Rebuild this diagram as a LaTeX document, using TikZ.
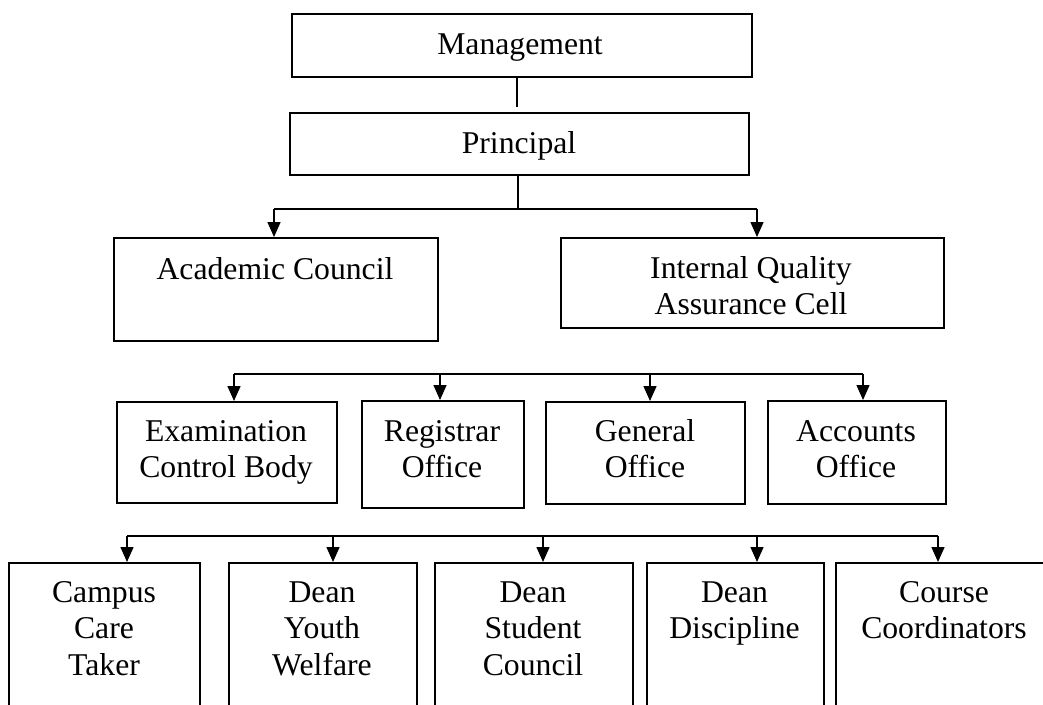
\documentclass[tikz,border=0pt]{standalone}
\usepackage{fontspec}
\setmainfont{Liberation Serif}
\usetikzlibrary{arrows.meta}
\begin{document}
\begin{tikzpicture}[x=1pt,y=-1pt,
  box/.style={draw, line width=1.6pt, inner sep=0pt, anchor=north west},
  lbl/.style={inner sep=0pt, anchor=north, align=center,
    font=\fontsize{31.7}{36.5}\selectfont},
  conn/.style={line width=1.5pt},
  arr/.style={line width=1.5pt, -{Triangle[length=15pt,width=13pt]}}]
\useasboundingbox (0,0) rectangle (1043,704);
\clip (0,0) rectangle (1043,704);
% boxes
\node[box, minimum width=460pt, minimum height=63pt] (mgmt) at (291,13) {};
\node[box, minimum width=459pt, minimum height=62pt] (prin) at (289,112) {};
\node[box, minimum width=324pt, minimum height=103pt] (ac) at (113,237) {};
\node[box, minimum width=383pt, minimum height=90pt] (iqac) at (560,237) {};
\node[box, minimum width=220pt, minimum height=101pt] (exam) at (116,401) {};
\node[box, minimum width=162pt, minimum height=107pt] (reg) at (361,400) {};
\node[box, minimum width=199pt, minimum height=102pt] (gen) at (545,401) {};
\node[box, minimum width=178pt, minimum height=103pt] (acc) at (767,400) {};
\node[box, minimum width=191pt, minimum height=170pt] (b1) at (8,562) {};
\node[box, minimum width=188pt, minimum height=170pt] (b2) at (228,562) {};
\node[box, minimum width=198pt, minimum height=170pt] (b3) at (434,562) {};
\node[box, minimum width=177pt, minimum height=170pt] (b4) at (646,562) {};
\node[box, minimum width=218pt, minimum height=170pt] (b5) at (835,562) {};
% labels
\node[lbl] (tmgmt) at (520,28.5) {\strut Management};
\node[lbl] (tprin) at (519,127.5) {\strut Principal};
\node[lbl] (tac) at (275,253.5) {\strut Academic Council};
\node[lbl] (tiqac) at (751,252.5) {\strut Internal Quality\\\strut Assurance Cell};
\node[lbl] (texam) at (226,415.5) {\strut Examination\\\strut Control Body};
\node[lbl] (treg) at (442,415.5) {\strut Registrar\\\strut Office};
\node[lbl] (tgen) at (645,415.5) {\strut General\\\strut Office};
\node[lbl] (tacc) at (856,415.5) {\strut Accounts\\\strut Office};
\node[lbl] (tb1) at (104,576.5) {\strut Campus\\\strut Care\\\strut Taker};
\node[lbl] (tb2) at (322,576.5) {\strut Dean\\\strut Youth\\\strut Welfare};
\node[lbl] (tb3) at (533,576.5) {\strut Dean\\\strut Student\\\strut Council};
\node[lbl] (tb4) at (734.5,576.5) {\strut Dean\\\strut Discipline};
\node[lbl] (tb5) at (944,576.5) {\strut Course\\\strut Coordinators};
% top connectors
\draw[conn, shorten >=5pt] (mgmt.south -| 517,0) -- (prin.north -| 517,0);
\coordinate (p1) at (518,209);
\draw[conn] (prin.south -| p1) -- (p1);
\coordinate (a1) at (274,209);
\coordinate (a2) at (757,209);
\draw[conn] (a1) -- (a2);
\draw[arr] (a1) -- (a1 |- ac.north);
\draw[arr] (a2) -- (a2 |- iqac.north);
% second bus
\coordinate (e1) at (234,374);
\coordinate (e2) at (440,374);
\coordinate (e3) at (650,374);
\coordinate (e4) at (863,374);
\draw[conn] (e1) -- (e4);
\draw[arr] (e1) -- (e1 |- exam.north);
\draw[arr] (e2) -- (e2 |- reg.north);
\draw[arr] (e3) -- (e3 |- gen.north);
\draw[arr] (e4) -- (e4 |- acc.north);
% third bus
\coordinate (d1) at (127,536);
\coordinate (d2) at (333,536);
\coordinate (d3) at (543,536);
\coordinate (d4) at (757,536);
\coordinate (d5) at (938,536);
\draw[conn] (d1) -- (d5);
\draw[arr] (d1) -- (d1 |- b1.north);
\draw[arr] (d2) -- (d2 |- b2.north);
\draw[arr] (d3) -- (d3 |- b3.north);
\draw[arr] (d4) -- (d4 |- b4.north);
\draw[arr] (d5) -- (d5 |- b5.north);
\end{tikzpicture}
\end{document}
